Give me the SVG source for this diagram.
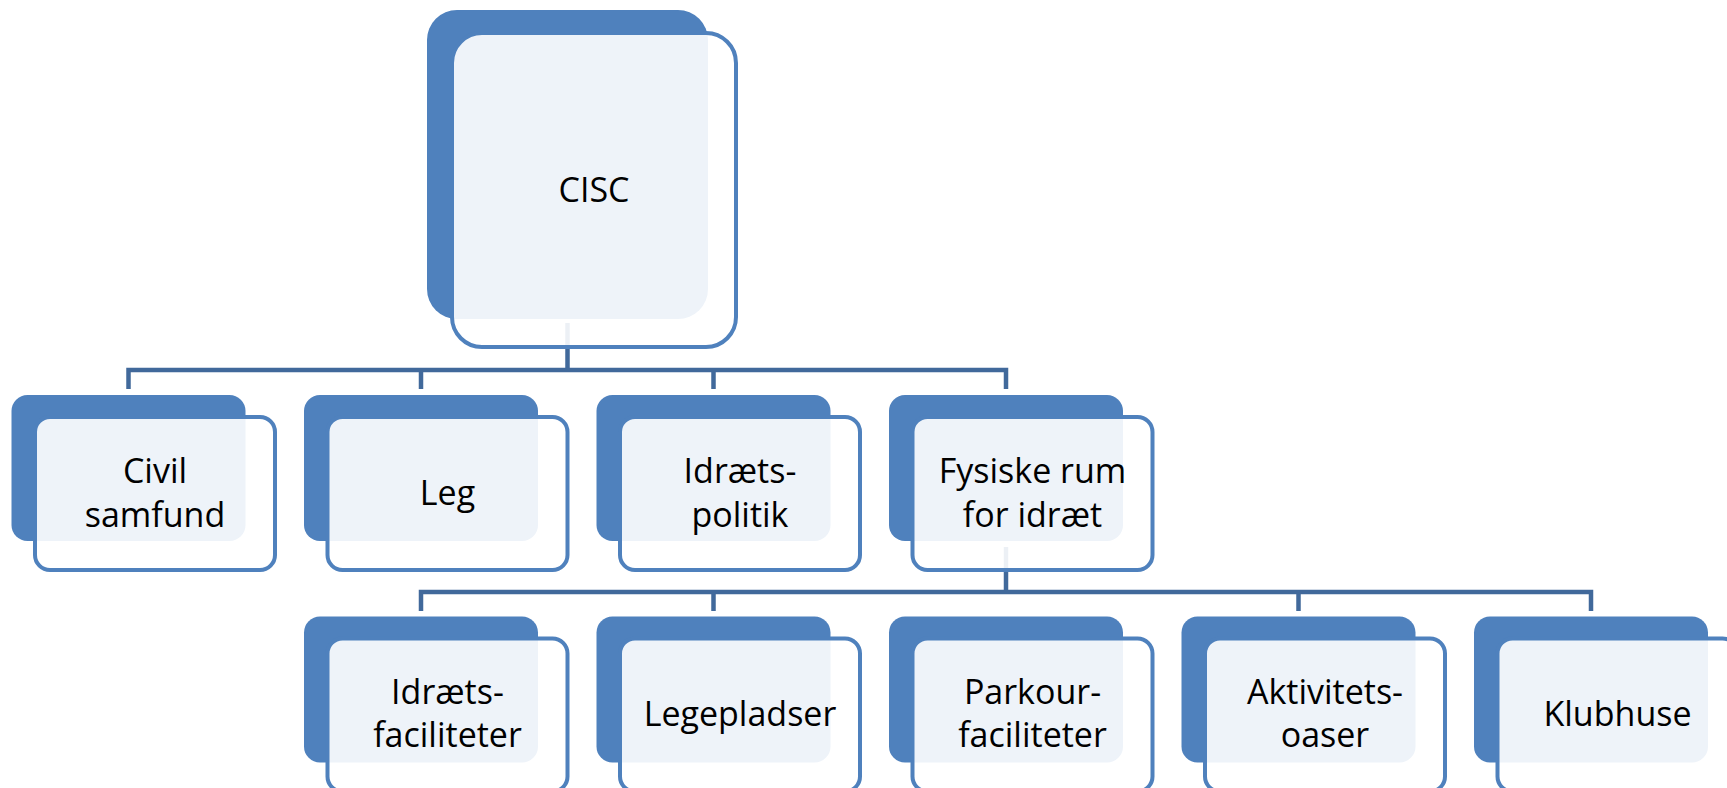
<svg xmlns="http://www.w3.org/2000/svg" width="1727" height="788" viewBox="0 0 1727 788">
<style>
.back{fill:#4F81BD}
.front{fill:#FFFFFF;fill-opacity:0.9;stroke:#4F81BD;stroke-width:4}
.conn{fill:none;stroke:#41699B;stroke-width:4.5;stroke-linejoin:miter;stroke-linecap:butt}
text{font-family:"Open Sans","Liberation Sans",sans-serif;font-size:34px;fill:#000;text-anchor:middle}
</style>
<rect x="0" y="0" width="1727" height="788" fill="#FFFFFF"/>
<g id="connectors">
<path class="conn" d="M567.5 323 V370 M128.5 389 V370 H1006 V389 M421 370 V389 M713.5 370 V389"/>
<path class="conn" d="M1006 547 V592 M421 611 V592 H1591 V611 M713.5 592 V611 M1298.5 592 V611"/>
</g>
<g id="cisc">
<rect class="back" x="427" y="10" width="281" height="309" rx="30"/>
<rect class="front" x="452" y="33" width="284" height="314" rx="30"/>
<text x="594" y="202">CISC</text>
</g>
<g id="civil">
<rect class="back" x="11.5" y="395" width="234" height="146" rx="16"/>
<rect class="front" x="35" y="417" width="240" height="153" rx="15"/>
<text x="155" y="483">Civil</text>
<text x="155" y="527">samfund</text>
</g>
<g id="leg">
<rect class="back" x="304" y="395" width="234" height="146" rx="16"/>
<rect class="front" x="327.5" y="417" width="240" height="153" rx="15"/>
<text x="447.5" y="505">Leg</text>
</g>
<g id="idraetspolitik">
<rect class="back" x="596.5" y="395" width="234" height="146" rx="16"/>
<rect class="front" x="620" y="417" width="240" height="153" rx="15"/>
<text x="740" y="483">Idræts-</text>
<text x="740" y="527">politik</text>
</g>
<g id="fysiske">
<rect class="back" x="889" y="395" width="234" height="146" rx="16"/>
<rect class="front" x="912.5" y="417" width="240" height="153" rx="15"/>
<text x="1032.5" y="483">Fysiske rum</text>
<text x="1032.5" y="527">for idræt</text>
</g>
<g id="idraetsfaciliteter">
<rect class="back" x="304" y="616.5" width="234" height="146" rx="16"/>
<rect class="front" x="327.5" y="638.5" width="240" height="153" rx="15"/>
<text x="447.5" y="704">Idræts-</text>
<text x="447.5" y="747">faciliteter</text>
</g>
<g id="legepladser">
<rect class="back" x="596.5" y="616.5" width="234" height="146" rx="16"/>
<rect class="front" x="620" y="638.5" width="240" height="153" rx="15"/>
<text x="740" y="726">Legepladser</text>
</g>
<g id="parkour">
<rect class="back" x="889" y="616.5" width="234" height="146" rx="16"/>
<rect class="front" x="912.5" y="638.5" width="240" height="153" rx="15"/>
<text x="1032.5" y="704">Parkour-</text>
<text x="1032.5" y="747">faciliteter</text>
</g>
<g id="aktivitetsoaser">
<rect class="back" x="1181.5" y="616.5" width="234" height="146" rx="16"/>
<rect class="front" x="1205" y="638.5" width="240" height="153" rx="15"/>
<text x="1325" y="704">Aktivitets-</text>
<text x="1325" y="747">oaser</text>
</g>
<g id="klubhuse">
<rect class="back" x="1474" y="616.5" width="234" height="146" rx="16"/>
<rect class="front" x="1497.5" y="638.5" width="240" height="153" rx="15"/>
<text x="1617.5" y="726">Klubhuse</text>
</g>
</svg>
